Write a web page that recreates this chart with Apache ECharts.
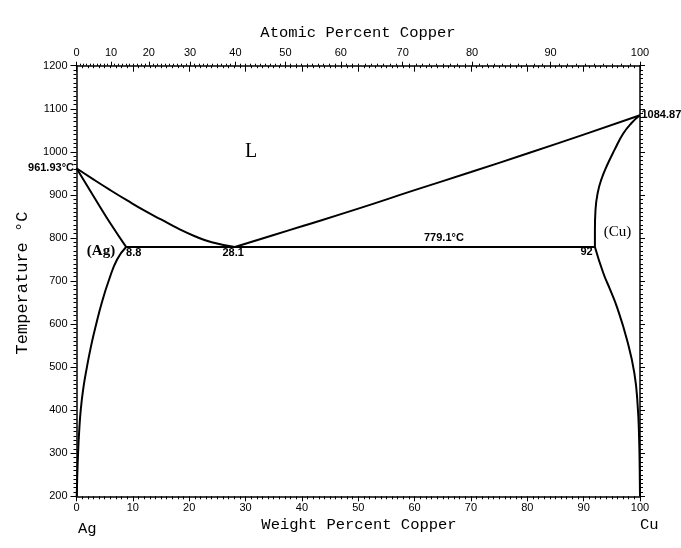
<!DOCTYPE html>
<html>
<head>
<meta charset="utf-8">
<script src="https://cdn.jsdelivr.net/npm/echarts@6/dist/echarts.min.js"></script>
<style>
html,body{margin:0;padding:0;background:#fff;}
#chart{width:681px;height:548px;}
</style>
</head>
<body>
<div id="chart"></div>
<script>
// ---- data (weight % Cu, temperature °C) ----
const liquidusAg = [[0,961.93],[3,936],[6,911],[9,887],[12,864],[15,843],[18,822],[21,804],[24,790],[28.1,779.1]];
const liquidusCu = [[28.1,779.1],[35,807],[40,827],[50,868],[60,911],[70,953],[80,996],[90,1040],[100,1084.87]];
const solidusAg = [[0,961.93],[2,919],[4,876],[6,834],[8.8,779.1]];
const solvusAg = [[8.8,779.1],[7.2,750],[5.7,700],[4.5,650],[3.5,600],[2.6,550],[1.85,500],[1.2,450],[0.75,400],[0.47,350],[0.28,300],[0.14,250],[0.04,200]];
const solidusCu = [[92,779.1],[92,820],[92.1,865],[92.5,905],[93.2,938],[94.2,970],[95.5,1005],[97,1042],[98.5,1067],[100,1084.87]];
const solvusCu = [[92,779.1],[93.5,718],[94.7,680],[95.9,640],[97.7,563],[99.0,486],[99.6,408],[99.85,331],[99.95,260],[100,200]];
const eutectic = [[8.8,779.1],[92,779.1]];

const tempTicks = [200,300,400,500,600,700,800,900,1000,1100,1200];
const weightTicks = [0,10,20,30,40,50,60,70,80,90,100];
const atomicTicks = [0,10,20,30,40,50,60,70,80,90,100];

const labelTexts = ['L','(Ag)','(Cu)','8.8','28.1','779.1°C','92','961.93°C','1084.87'];
const labelPoints = [[31,1000],[4.35,770],[96,814],[8.8,765],[27.8,764],[65.2,799],[91.6,767],[0,961.93],[100,1084.87]];

// atomic % -> weight % conversion for the top axis
const M_CU = 63.546, M_AG = 107.868;
function atomicToWeight(a){ return 100*a*M_CU/(a*M_CU+(100-a)*M_AG); }
const atomicMajorPos = atomicTicks.map(atomicToWeight);
const atomicMinorPos = [];
for (let a=0; a<=100; a+=1) atomicMinorPos.push(atomicToWeight(a));

const chart = echarts.init(document.getElementById('chart'), null, {renderer:'canvas'});
const black = '#000';
const tickFont = {fontFamily:'Liberation Sans, Arial, sans-serif', fontSize:11, color:'#000'};
const plain = v => String(v);

function curve(name, data){
  return {name, type:'line', data, xAxisIndex:0, yAxisIndex:0, showSymbol:false, symbol:'none',
    smooth:0.5, lineStyle:{color:black, width:2}, silent:true, z:3};
}

const sans = 'Liberation Sans, Arial, sans-serif';
const serif = 'Liberation Serif, Times New Roman, serif';
const labelStyles = [
  {fontFamily:serif, fontSize:20},
  {fontFamily:serif, fontSize:15, fontWeight:'bold'},
  {fontFamily:serif, fontSize:15},
  {fontFamily:sans, fontSize:11, fontWeight:'bold', align:'left'},
  {fontFamily:sans, fontSize:11, fontWeight:'bold'},
  {fontFamily:sans, fontSize:11, fontWeight:'bold'},
  {fontFamily:sans, fontSize:11, fontWeight:'bold', align:'right'},
  {fontFamily:sans, fontSize:11, fontWeight:'bold', position:'left', distance:2},
  {fontFamily:sans, fontSize:11, fontWeight:'bold', position:'right', distance:1}
];

const annData = labelPoints.map((p,i)=>{
  const st = labelStyles[i];
  const lab = Object.assign({show:true, formatter:labelTexts[i], position:'inside', verticalAlign:'middle',
    color:'#000', textBorderWidth:0, textBorderColor:'transparent', textShadowBlur:0, opacity:1}, st);
  return {value:p, label:lab, itemStyle:{color:'#000', opacity:0}};
});

const option = {
  backgroundColor:'#fff',
  animation:false,
  grid:{left:76.5, right:41, top:65.7, bottom:51.7, containLabel:false},
  xAxis:[
    {type:'value', position:'bottom', min:0, max:100, interval:10,
      axisLine:{show:true, onZero:false, lineStyle:{color:black, width:1.5}},
      axisTick:{show:true, inside:false, length:5, lineStyle:{color:black, width:1}},
      minorTick:{show:true, splitNumber:10, length:3, lineStyle:{color:black, width:1}},
      axisLabel:Object.assign({show:true, margin:6, formatter:plain}, tickFont),
      splitLine:{show:false}},
    {type:'value', position:'top', min:0, max:100, interval:10,
      axisLine:{show:true, onZero:false, lineStyle:{color:black, width:1.5}},
      axisTick:{show:true, inside:true, length:6, lineStyle:{color:black, width:1}},
      minorTick:{show:true, splitNumber:10, length:2.5, lineStyle:{color:black, width:1}},
      axisLabel:{show:false}, splitLine:{show:false}},
    {type:'value', position:'top', min:0, max:100,
      axisLine:{show:false, onZero:false},
      axisTick:{show:true, inside:false, length:4, customValues:atomicMajorPos, lineStyle:{color:black, width:1}},
      axisLabel:Object.assign({show:true, margin:7, customValues:atomicMajorPos,
        formatter:function(v){
          let best=0, bd=1e9;
          atomicMajorPos.forEach((w,i)=>{const d=Math.abs(w-v); if(d<bd){bd=d;best=i;}});
          return String(atomicTicks[best]);
        }}, tickFont),
      splitLine:{show:false}},
    {type:'value', position:'top', min:0, max:100,
      axisLine:{show:false, onZero:false},
      axisTick:{show:true, inside:false, length:2, customValues:atomicMinorPos, lineStyle:{color:black, width:1}},
      axisLabel:{show:false}, splitLine:{show:false}}
  ],
  yAxis:[
    {type:'value', position:'left', min:200, max:1200, interval:100,
      axisLine:{show:true, onZero:false, lineStyle:{color:black, width:1.5}},
      axisTick:{show:true, inside:false, length:6, lineStyle:{color:black, width:1}},
      minorTick:{show:true, splitNumber:10, length:3, lineStyle:{color:black, width:1}},
      axisLabel:Object.assign({show:true, margin:9, formatter:plain}, tickFont),
      splitLine:{show:false}},
    {type:'value', position:'right', min:200, max:1200, interval:100,
      axisLine:{show:true, onZero:false, lineStyle:{color:black, width:1.5}},
      axisTick:{show:true, inside:false, length:5, lineStyle:{color:black, width:1}},
      minorTick:{show:true, splitNumber:10, length:3, lineStyle:{color:black, width:1}},
      axisLabel:{show:false}, splitLine:{show:false}}
  ],
  series:[
    curve('Liquidus (Ag side)', liquidusAg),
    curve('Liquidus (Cu side)', liquidusCu),
    curve('Solidus (Ag)', solidusAg),
    curve('Solvus (Ag)', solvusAg),
    curve('Solidus (Cu)', solidusCu),
    curve('Solvus (Cu)', solvusCu),
    Object.assign(curve('Eutectic', eutectic), {smooth:false}),
    {name:'labels', type:'scatter', xAxisIndex:0, yAxisIndex:0, symbolSize:1, silent:true, clip:false,
      data:annData, z:5}
  ],
  graphic:[
    {type:'text', x:358, y:33, style:{text:'Atomic Percent Copper', fontFamily:'Liberation Mono, Courier New, monospace', fontSize:15.5, fill:black, align:'center', verticalAlign:'middle'}},
    {type:'text', x:359, y:525, style:{text:'Weight Percent Copper', fontFamily:'Liberation Mono, Courier New, monospace', fontSize:15.5, fill:black, align:'center', verticalAlign:'middle'}},
    {type:'text', x:22, y:283, rotation:Math.PI/2, style:{text:'Temperature °C', fontFamily:'Liberation Mono, Courier New, monospace', fontSize:17, fill:black, align:'center', verticalAlign:'middle'}},
    {type:'text', x:78, y:529, style:{text:'Ag', fontFamily:'Liberation Mono, Courier New, monospace', fontSize:15.5, fill:black, align:'left', verticalAlign:'middle'}},
    {type:'text', x:640, y:525, style:{text:'Cu', fontFamily:'Liberation Mono, Courier New, monospace', fontSize:15.5, fill:black, align:'left', verticalAlign:'middle'}}
  ]
};
chart.setOption(option);
</script>
</body>
</html>
